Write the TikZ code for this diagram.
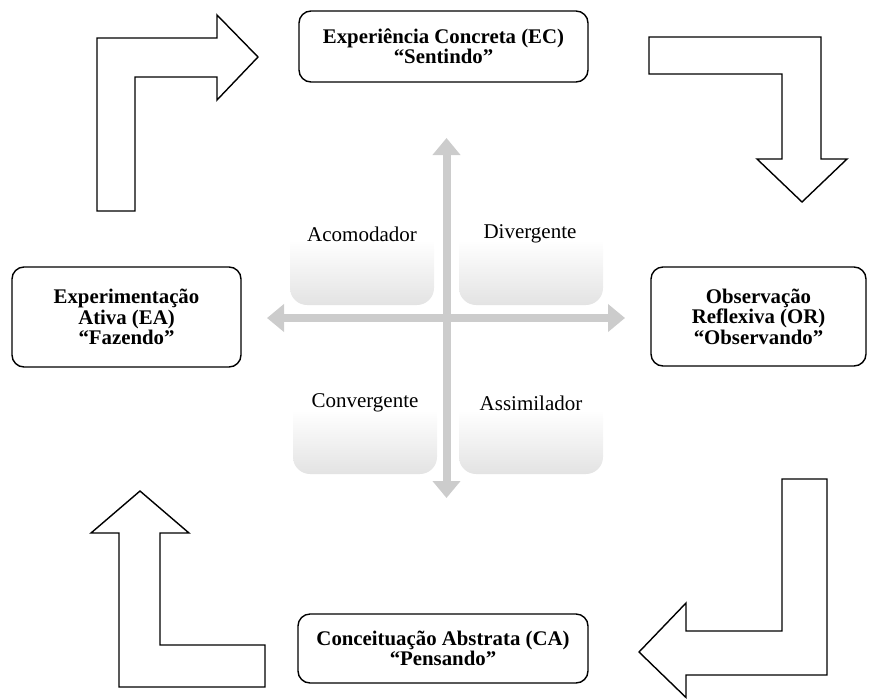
\documentclass[tikz,border=0pt]{standalone}
\usepackage{fontspec}
\setmainfont{Liberation Serif}
\usetikzlibrary{arrows.meta}

\tikzset{
  stage/.style={draw=black, line width=1.4pt, rounded corners=12pt, fill=white,
    align=center, inner sep=0pt, font=\bfseries\fontsize{20.8}{20.5}\selectfont},
  quadbox/.style={rounded corners=17pt, top color=white, bottom color=black!11,
    middle color=white, inner sep=0pt, minimum width=144pt},
  quadtext/.style={font=\fontsize{21}{22}\selectfont, text=black, inner sep=0pt},
  bentarrow/.style={draw=black, line width=1.4pt, fill=white, line join=miter},
  axis/.style={draw=black!20, line width=8pt,
    {Triangle[length=17pt,width=27pt]}-{Triangle[length=17pt,width=27pt]}}
}

\begin{document}
\begin{tikzpicture}[x=1pt, y=-1pt]
\useasboundingbox (0,0) rectangle (869,699);

% shaded quadrant panels
\node[quadbox, minimum height=130pt] (acbox) at (362,240) {};
\node[quadbox, minimum height=130pt] (dvbox) at (531,240) {};
\node[quadbox, minimum height=128pt] (cvbox) at (365,410) {};
\node[quadbox, minimum height=128pt] (asbox) at (531,410) {};

% quadrant labels
\node[quadtext] (ac) at (362,234) {Acomodador};
\node[quadtext] (dv) at (530,234) {Divergente};
\node[quadtext] (cv) at (365,403) {Convergente};
\node[quadtext] (as) at (531,403) {Assimilador};

% the two crossing axes
\coordinate (vtop) at (446.5,138);
\coordinate (vbot) at (446.5,498);
\coordinate (hleft) at (267,318);
\coordinate (hright) at (625,318);
\draw[axis] (hleft) -- (hright);
\draw[axis] (vtop) -- (vbot);

% the four stages of the cycle
\node[stage, minimum width=289pt, minimum height=71pt] (ec) at (443.5,46.5)
  {Experiência Concreta (EC)\\``Sentindo''};
\node[stage, minimum width=229pt, minimum height=100pt] (ea) at (126.5,317)
  {Experimentação\\Ativa (EA)\\``Fazendo''};
\node[stage, minimum width=215pt, minimum height=99pt] (or) at (758.5,316.5)
  {Observação\\Reflexiva (OR)\\``Observando''};
\node[stage, minimum width=290pt, minimum height=69pt] (ca) at (443,648.5)
  {Conceituação Abstrata (CA)\\``Pensando''};

% bent block arrows around the cycle
\draw[bentarrow] (97,211) -- (97,38) -- (217,38) -- (217,15) -- (258,57)
  -- (217,100) -- (217,77) -- (135,77) -- (135,211) -- cycle;
\draw[bentarrow] (649,37) -- (821,37) -- (821,159) -- (847,159) -- (802,202)
  -- (757,159) -- (782,159) -- (782,74) -- (649,74) -- cycle;
\draw[bentarrow] (782,479) -- (827,479) -- (827,675) -- (686,675) -- (686,697.5)
  -- (639,652) -- (686,603) -- (686,631) -- (782,631) -- cycle;
\draw[bentarrow] (119,687) -- (265,687) -- (265,645) -- (160,645) -- (160,533)
  -- (189,533) -- (140,491) -- (91,533) -- (119,533) -- cycle;
\end{tikzpicture}
\end{document}
